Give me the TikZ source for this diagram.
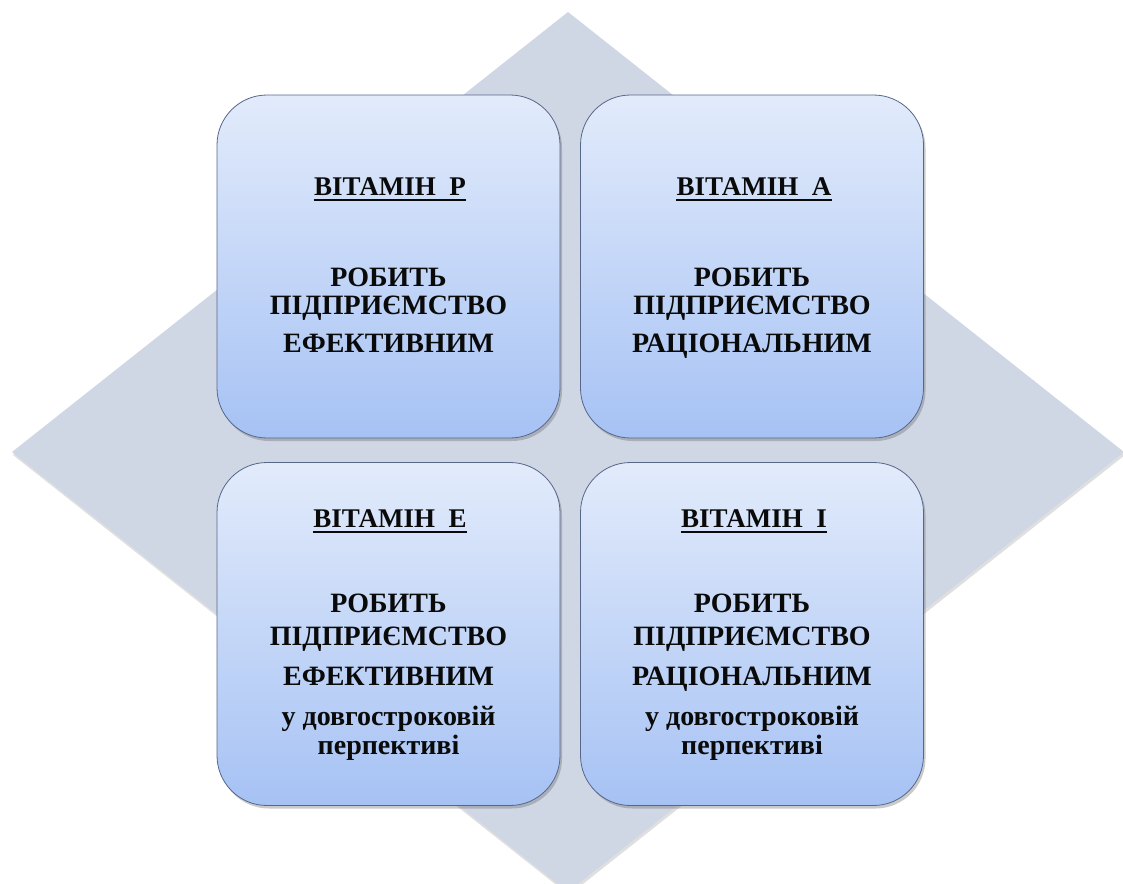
\documentclass[tikz,border=0pt]{standalone}
\usepackage{fontspec}
\setmainfont{Liberation Serif}
\usetikzlibrary{shadows}
\definecolor{diam}{HTML}{CFD6E4}
\definecolor{cardtop}{HTML}{E2EBFB}
\definecolor{cardbot}{HTML}{A6C2F4}
\definecolor{cardedge}{HTML}{56678A}
\definecolor{ink}{HTML}{0A0A0A}
\begin{document}
\begin{tikzpicture}[x=1pt,y=-1pt,
  card/.style={draw=cardedge, line width=0.8pt, rounded corners=50pt,
    top color=cardtop, bottom color=cardbot,
    minimum width=343pt, minimum height=343pt, inner sep=0pt,
    drop shadow={shadow xshift=2pt, shadow yshift=-3pt, opacity=0.35, fill=black!60}},
  ttl/.style={anchor=base, text=ink, font=\bfseries\fontsize{27}{32}\selectfont, inner sep=0pt},
  txt/.style={anchor=base, text=ink, font=\bfseries\fontsize{28}{33}\selectfont, inner sep=0pt},
  uline/.style={draw=ink, line width=1.8pt}
]
\useasboundingbox (0,0) rectangle (1123,883);
% background diamond
\coordinate (dt) at (568,12);
\coordinate (dr) at (1124,452);
\coordinate (db) at (568,892);
\coordinate (dl) at (12,452);
\fill[diam, drop shadow={shadow xshift=1pt, shadow yshift=-3pt, opacity=0.25, fill=black!50}]
  (dt) -- (dr) -- (db) -- (dl) -- cycle;

% cards
\node[card] (cp) at (388.5,266.5) {};
\node[card] (ca) at (752,266.5) {};
\node[card] (ce) at (388.5,634) {};
\node[card] (ci) at (752,634) {};

% card P
\node[ttl] (pt) at (390,195) {ВІТАМІН\ \ Р};
\draw[uline] ([yshift=-5pt]pt.base west) -- ([yshift=-5pt]pt.base east);
\node[txt] (p1) at (388.5,286) {РОБИТЬ};
\node[txt] (p2) at (388.5,314) {ПІДПРИЄМСТВО};
\node[txt] (p3) at (388.5,352) {ЕФЕКТИВНИМ};

% card A
\node[ttl] (at) at (754,195) {ВІТАМІН\ \ А};
\draw[uline] ([yshift=-5pt]at.base west) -- ([yshift=-5pt]at.base east);
\node[txt] (a1) at (752,286) {РОБИТЬ};
\node[txt] (a2) at (752,314) {ПІДПРИЄМСТВО};
\node[txt] (a3) at (752,352) {РАЦІОНАЛЬНИМ};

% card E
\node[ttl] (et) at (390,527) {ВІТАМІН\ \ Е};
\draw[uline] ([yshift=-5pt]et.base west) -- ([yshift=-5pt]et.base east);
\node[txt] (e1) at (388.5,612) {РОБИТЬ};
\node[txt] (e2) at (388.5,645) {ПІДПРИЄМСТВО};
\node[txt] (e3) at (388.5,685) {ЕФЕКТИВНИМ};
\node[txt] (e4) at (388.5,725) {у довгостроковій};
\node[txt] (e5) at (388.5,754) {перпективі};

% card I
\node[ttl] (it) at (754,527) {ВІТАМІН\ \ І};
\draw[uline] ([yshift=-5pt]it.base west) -- ([yshift=-5pt]it.base east);
\node[txt] (i1) at (752,612) {РОБИТЬ};
\node[txt] (i2) at (752,645) {ПІДПРИЄМСТВО};
\node[txt] (i3) at (752,685) {РАЦІОНАЛЬНИМ};
\node[txt] (i4) at (752,725) {у довгостроковій};
\node[txt] (i5) at (752,754) {перпективі};
\end{tikzpicture}
\end{document}
